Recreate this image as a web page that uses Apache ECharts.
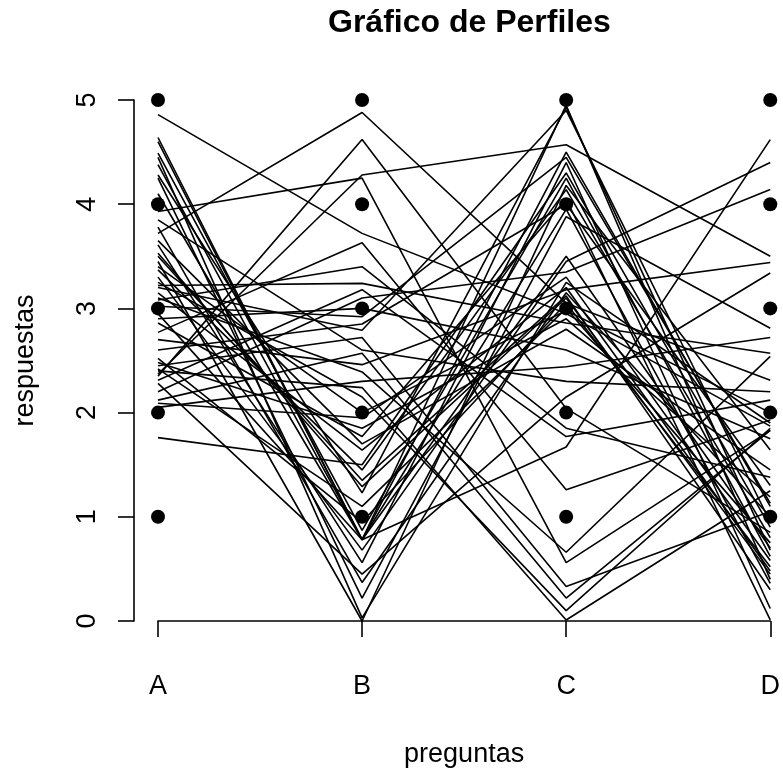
<!DOCTYPE html>
<html>
<head>
<meta charset="utf-8">
<script src="https://cdn.jsdelivr.net/npm/echarts@6/dist/echarts.min.js"></script>
<style>
  html, body { margin: 0; padding: 0; background: #fff; }
  #chart { width: 783px; height: 776px; }
</style>
</head>
<body>
<div id="chart"></div>
<script>
// preguntas (eje x)
const questions = ["A", "B", "C", "D"];
// niveles observados (puntos)
const levels = [1, 2, 3, 4, 5];

// respuestas con jitter, una posición por perfil
const respA = [4.86, 3.72, 2.35, 2.37, 3.93, 4.64, 4.60, 4.49, 4.45, 4.38, 4.28, 4.25,
  3.78, 3.61, 3.53, 3.45, 3.37, 3.30, 3.25, 3.22, 3.20, 3.15, 3.10, 3.08,
  3.02, 2.95, 2.86, 2.77, 2.70, 2.52, 2.48, 2.45, 2.42, 2.40, 2.31, 2.28,
  2.12, 2.09, 2.05, 1.76, 3.50, 3.40, 3.65, 2.90, 2.60, 4.10, 3.85, 2.20];
const respB = [3.72, 4.88, 4.62, 4.28, 4.25, 0.78, 0.78, 0.87, 0.03, 0.78, 1.23, 0.22,
  0.37, 0.56, 1.29, 0.00, 1.45, 0.68, 2.15, 3.24, 2.79, 1.64, 2.39, 3.40,
  2.92, 0.78, 1.77, 3.63, 2.46, 0.95, 1.85, 2.72, 1.10, 2.24, 3.18, 0.45,
  2.57, 1.95, 2.30, 1.50, 1.35, 2.00, 1.70, 3.00, 2.85, 0.78, 2.60, 3.10];
const respC = [2.95, 3.05, 2.04, 4.57, 0.56, 4.95, 4.50, 4.25, 3.25, 3.95, 4.93, 3.88,
  3.15, 4.40, 3.10, 4.18, 4.14, 3.45, 0.10, 2.86, 4.90, 3.20, 0.66, 1.85,
  4.45, 1.67, 4.05, 1.26, 3.18, 3.05, 2.90, 0.33, 3.00, 0.01, 1.77, 2.15,
  0.22, 3.30, 2.44, 4.30, 3.12, 2.98, 2.80, 2.60, 4.00, 3.50, 2.30, 3.35];
const respD = [1.87, 0.52, 0.85, 3.50, 1.83, 0.40, 1.10, 0.62, 1.90, 0.36, 0.68, 2.81,
  1.00, 0.12, 0.45, 1.64, 0.80, 4.40, 1.85, 2.57, 0.95, 0.48, 2.54, 1.38,
  1.13, 4.62, 0.01, 1.93, 3.44, 2.31, 1.19, 1.05, 0.75, 1.25, 2.12, 3.34,
  1.83, 0.58, 2.72, 0.90, 0.30, 2.00, 1.45, 1.75, 1.30, 0.70, 2.20, 4.14];

const font = "Liberation Sans, Arial, sans-serif";

const series = [];
respA.forEach((a, i) => {
  series.push({
    type: "line",
    data: [a, respB[i], respC[i], respD[i]],
    symbol: "none",
    clip: false,
    silent: true,
    lineStyle: { color: "#000", width: 1.6 },
    z: 2
  });
});

const dots = [];
questions.forEach(q => levels.forEach(v => dots.push([q, v])));
series.push({
  type: "scatter",
  data: dots,
  symbolSize: 14,
  itemStyle: { color: "#000", opacity: 1 },
  clip: false,
  z: 3
});

const chart = echarts.init(document.getElementById("chart"));
chart.setOption({
  animation: false,
  backgroundColor: "#fff",
  title: {
    text: "Gráfico de Perfiles",
    left: 323,
    top: 2,
    textStyle: { fontFamily: font, fontSize: 32, fontWeight: "bold", color: "#000" }
  },
  grid: { left: 158, right: 12, top: 100, bottom: 155, containLabel: false },
  xAxis: {
    type: "category",
    data: questions,
    boundaryGap: false,
    offset: 21,
    name: "preguntas",
    nameLocation: "middle",
    nameGap: 99,
    nameTextStyle: { fontFamily: font, fontSize: 27, color: "#000" },
    axisLine: { lineStyle: { color: "#000", width: 1.6 } },
    axisTick: { length: 16, lineStyle: { color: "#000", width: 1.6 } },
    axisLabel: { fontFamily: font, fontSize: 27, color: "#000", margin: 31 },
    splitLine: { show: false }
  },
  yAxis: {
    type: "value",
    min: 0,
    max: 5,
    interval: 1,
    offset: 24,
    name: "respuestas",
    nameLocation: "middle",
    nameGap: 95,
    nameTextStyle: { fontFamily: font, fontSize: 27, color: "#000" },
    axisLine: { show: true, lineStyle: { color: "#000", width: 1.6 } },
    axisTick: { show: true, length: 16, lineStyle: { color: "#000", width: 1.6 } },
    axisLabel: { fontFamily: font, fontSize: 27, color: "#000", rotate: 90, margin: 33 },
    splitLine: { show: false }
  },
  series: series
});
</script>
</body>
</html>
